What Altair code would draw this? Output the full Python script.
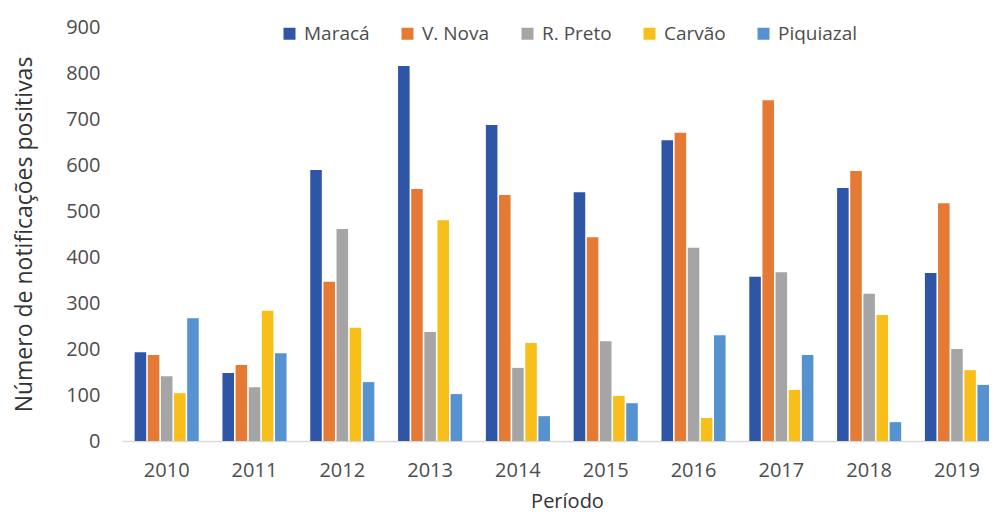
import altair as alt
import pandas as pd

years = ["2010", "2011", "2012", "2013", "2014", "2015", "2016", "2017", "2018", "2019"]
series = ["Maracá", "V. Nova", "R. Preto", "Carvão", "Piquiazal"]
colors = ["#2F56A6", "#E57A35", "#A5A5A5", "#F8BF1A", "#5592CF"]

maraca = [193, 148, 589, 815, 687, 541, 654, 357, 550, 365]
v_nova = [187, 165, 346, 548, 535, 443, 670, 741, 587, 517]
r_preto = [141, 117, 461, 237, 159, 217, 420, 367, 320, 200]
carvao = [104, 283, 246, 480, 213, 98, 50, 111, 274, 154]
piquiazal = [267, 191, 128, 102, 54, 82, 230, 187, 41, 122]

rows = []
for name, vals in zip(series, [maraca, v_nova, r_preto, carvao, piquiazal]):
    for y, v in zip(years, vals):
        rows.append({"Ano": y, "Local": name, "Valor": v})
df = pd.DataFrame(rows)

font = "Open Sans"
txt = "#4d4d4d"

chart = alt.Chart(df).mark_bar().encode(
    x=alt.X("Ano:N", sort=years,
            scale=alt.Scale(paddingInner=0.27, paddingOuter=0.072, align=1),
            axis=alt.Axis(title="Período", labelAngle=0, ticks=False,
                          domainColor="#D9D9D9", domainWidth=1.5,
                          labelPadding=19, labelFontSize=20, labelColor=txt,
                          labelFont=font, titleFont=font, titleFontSize=20,
                          titleFontWeight="normal", titleColor="#333333",
                          titlePadding=11, titleX=445)),
    xOffset=alt.XOffset("Local:N", sort=series, scale=alt.Scale(paddingInner=0.12)),
    y=alt.Y("Valor:Q",
            scale=alt.Scale(domain=[0, 900], nice=False),
            axis=alt.Axis(title="Número de notificações positivas",
                          values=list(range(0, 901, 100)), grid=False,
                          domain=False, ticks=False, labelPadding=22,
                          labelFontSize=20, labelColor=txt, labelFont=font,
                          titleFont=font, titleFontSize=23, titleFontWeight="normal",
                          titleColor="#333333", titlePadding=29)),
    color=alt.Color("Local:N", sort=series,
                    scale=alt.Scale(domain=series, range=colors),
                    legend=alt.Legend(title=None, orient="none", direction="horizontal",
                                      legendX=158, legendY=-3, symbolType="square",
                                      symbolSize=144, labelFontSize=19, labelFont=font,
                                      labelColor=txt, columnPadding=28, labelOffset=5,
                                      symbolStrokeWidth=0)),
).properties(
    width=867, height=414,
    padding={"top": 9, "left": 5, "right": 0, "bottom": 2},
).configure_view(stroke=None)

chart.save("out.html", embed_options={"renderer": "svg", "actions": False})
